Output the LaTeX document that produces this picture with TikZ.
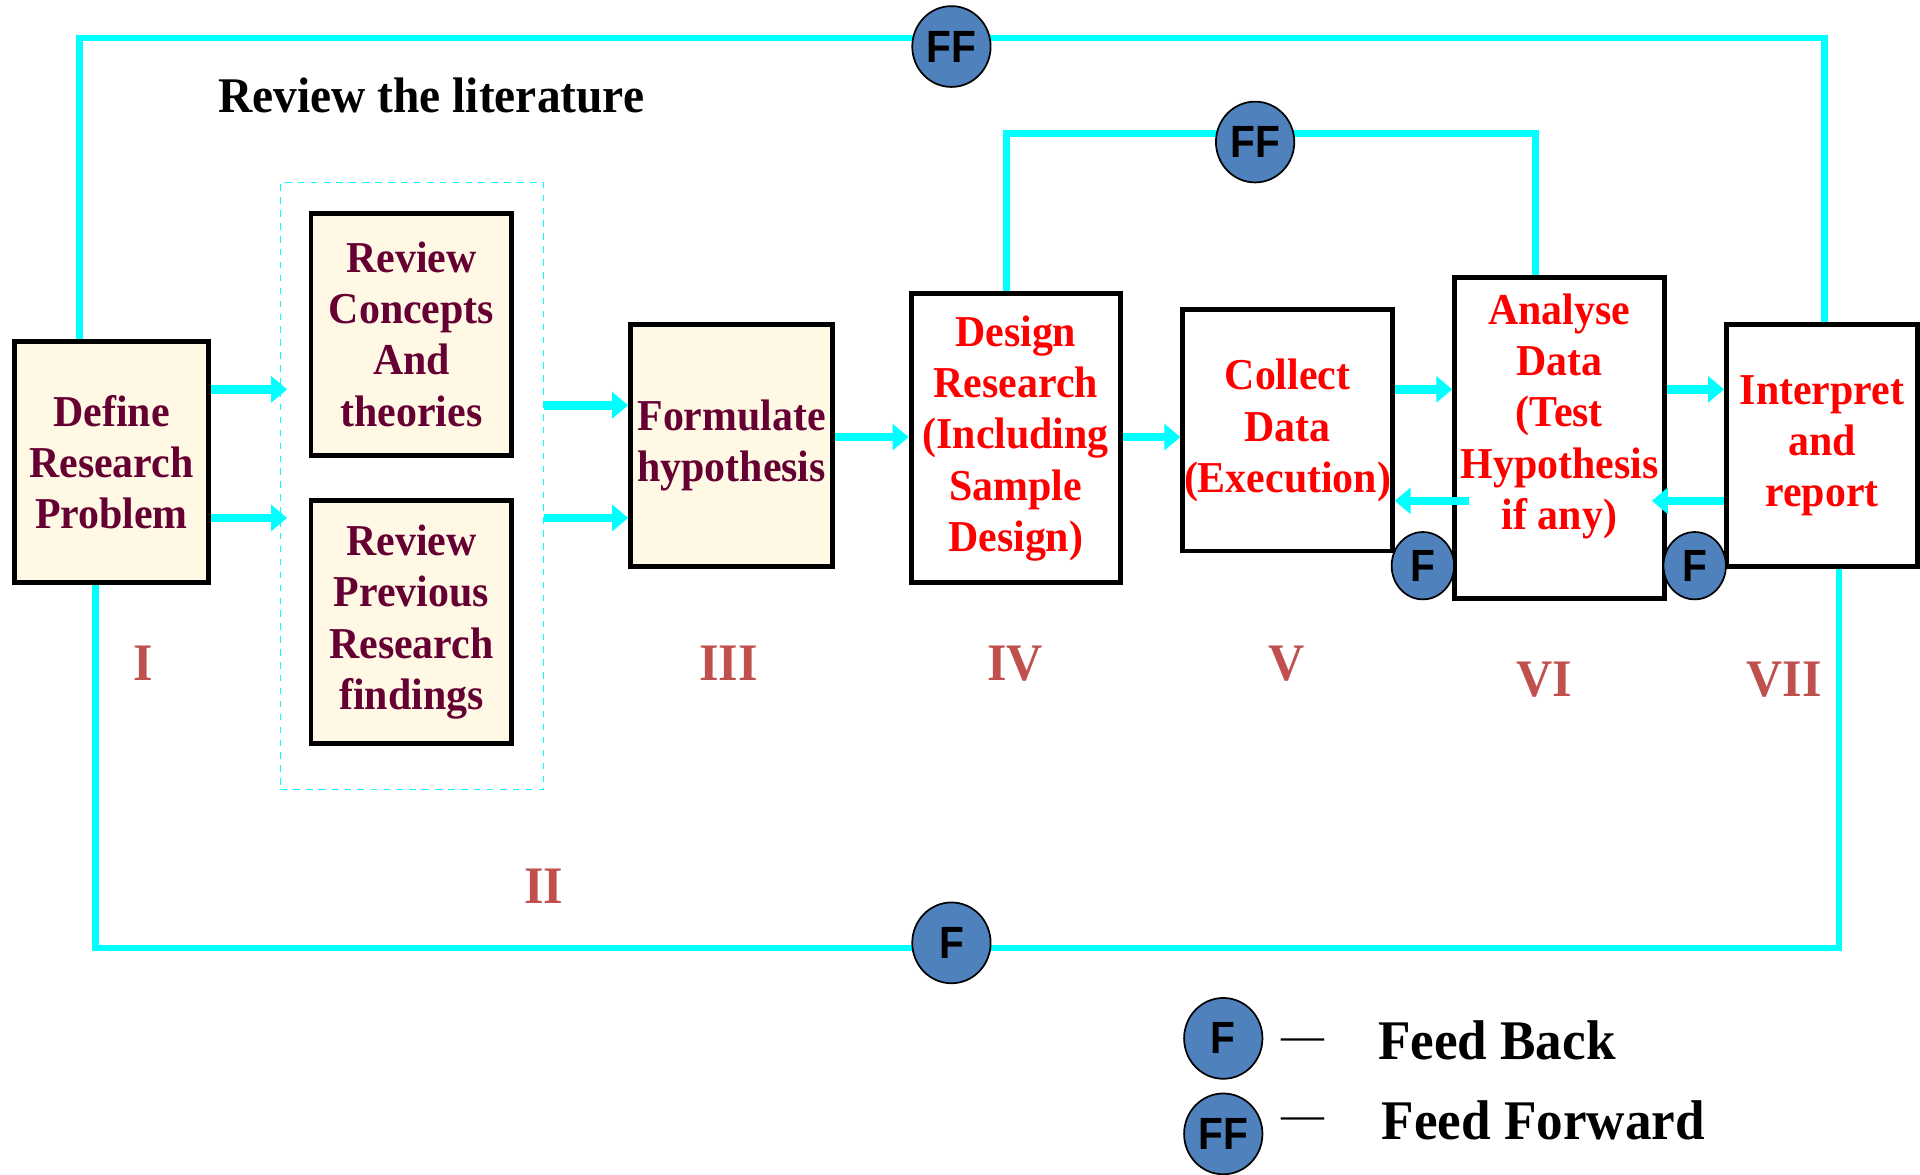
\documentclass[tikz,border=0pt]{standalone}
\usepackage{fontspec}
\setmainfont{Liberation Serif}[FakeStretch=0.95]
\newfontfamily\ballfamily{Liberation Sans}[FakeStretch=0.9]
\usetikzlibrary{arrows.meta,shapes.geometric}

\definecolor{linecyan}{RGB}{0,255,255}
\definecolor{boxcream}{RGB}{254,248,229}
\definecolor{stagemaroon}{RGB}{102,0,51}
\definecolor{numred}{RGB}{192,80,77}
\definecolor{ballblue}{RGB}{79,129,189}

\newcommand\unitpx{0.02cm}
\newcommand\stagefont{\fontsize{20.5}{23.8}\selectfont\bfseries}
\newcommand\numfont{\fontsize{24.5}{24.5}\selectfont\bfseries}
\newcommand\keyfont{\fontsize{26}{26}\selectfont\bfseries}

\tikzset{
  stage/.style={draw=black, line width=2.3pt, inner sep=0pt, align=center, font=\stagefont},
  creambox/.style={stage, fill=boxcream, text=stagemaroon},
  whitebox/.style={stage, fill=white, text=red},
  flow/.style={draw=linecyan, line width=4pt, -{Triangle[width=0.42cm,length=0.26cm]}},
  fbline/.style={draw=linecyan, line width=3pt},
  litframe/.style={draw=linecyan, dashed, line width=0.6pt},
  ball/.style={ellipse, draw=black, line width=0.8pt, fill=ballblue, inner sep=0pt,
    minimum width=64*\unitpx, minimum height=66*\unitpx,
    font=\ballfamily\bfseries\fontsize{21}{21}\selectfont},
  smallball/.style={ball, minimum width=51*\unitpx, minimum height=55*\unitpx},
  numeral/.style={text=numred, inner sep=0pt, font=\numfont}
}

\begin{document}
\begin{tikzpicture}[x=0.02cm,y=-0.02cm]
\useasboundingbox (0,0) rectangle (1568,959);

% loop corners
\coordinate (topL) at (65,31);
\coordinate (topR) at (1490,31);
\coordinate (midL) at (822,109);
\coordinate (midR) at (1254,109);
\coordinate (botL) at (78,774);
\coordinate (botR) at (1502,774);

\node[anchor=west, inner sep=0pt, font=\fontsize{23.2}{23.2}\selectfont\bfseries] (title) at (178,78) {Review the literature};

\node[litframe, minimum width=215*\unitpx, minimum height=496*\unitpx] (review) at (336.5,397) {};

% stages
\node[creambox, minimum width=158*\unitpx, minimum height=197*\unitpx] (define) at (91,377.5) {Define\\Research\\Problem};
\node[creambox, minimum width=164*\unitpx, minimum height=198*\unitpx] (concepts) at (336,273) {Review\\Concepts\\And\\theories};
\node[creambox, minimum width=164*\unitpx, minimum height=198*\unitpx] (previous) at (336,508) {Review\\Previous\\Research\\findings};
\node[creambox, minimum width=165*\unitpx, minimum height=198*\unitpx] (formulate) at (597.5,364) {Formulate\\hypothesis};
\node[whitebox, minimum width=171*\unitpx, minimum height=236*\unitpx] (design) at (829.5,358) {Design\\Research\\(Including\\Sample\\Design)};
\node[whitebox, minimum width=171*\unitpx, minimum height=197*\unitpx] (collect) at (1051.5,351.5) {Collect\\Data\\(Execution)};
\node[whitebox, minimum width=171*\unitpx, minimum height=262*\unitpx] (analyse) at (1273.5,358) {};
\node[text=red, align=center, inner sep=0pt, font=\stagefont] (analysetext) at (1273.5,340) {Analyse\\Data\\(Test\\Hypothesis\\if any)};
\node[whitebox, minimum width=156*\unitpx, minimum height=198*\unitpx] (interpret) at (1488,364) {Interpret\\and\\report};

% feed forward / feed back lines
\draw[fbline] (define.north -| topL) -- (topL) -- (topR) -- (interpret.north -| topR);
\draw[fbline] (design.north -| midL) -- (midL) -- (midR) -- (analyse.north -| midR);
\draw[fbline] (define.south -| botL) -- (botL) -- (botR) -- (interpret.south -| botR);

% arrows
\draw[flow, shorten >=-0.12cm] (define.east |- 0,318) -- (review.west |- 0,318);
\draw[flow, shorten >=-0.12cm] (define.east |- 0,423) -- (review.west |- 0,423);
\foreach \from/\to/\y in {review/formulate/331, review/formulate/423, formulate/design/357,
  design/collect/357, collect/analyse/318, analyse/interpret/318} {
\draw[flow] (\from.east |- 0,\y) -- (\to.west |- 0,\y);
}
\draw[flow, shorten <=-0.28cm] (analyse.west |- 0,409) -- (collect.east |- 0,409);
\draw[flow, shorten >=-0.24cm] (interpret.west |- 0,409) -- (analyse.east |- 0,409);

\node[ball] (fftop) at (777,38) {FF};
\node[ball] (ffmid) at (1025,116) {FF};
\node[ball] (fbot) at (777,770) {F};
\node[smallball] (fcollect) at (1162,462) {F};
\node[smallball] (fanalyse) at (1384,462) {F};

\foreach \x/\y/\t in {117/542/I, 444/724/II, 595/542/III, 829/542/IV, 1051/542/V, 1261/555/VI, 1457/555/VII} {
\node[numeral] (num\t) at (\x,\y) {\t};
}

% key
\node[ball] (keyf) at (999,848) {F};
\node[ball] (keyff) at (999,926) {FF};
\node[inner sep=0pt, font=\fontsize{21}{21}\selectfont] (dashf) at (1064,853) {---};
\node[inner sep=0pt, font=\fontsize{21}{21}\selectfont] (dashff) at (1064,918) {---};
\node[anchor=west, inner sep=0pt, font=\keyfont] (feedback) at (1125,850) {Feed Back};
\node[anchor=west, inner sep=0pt, font=\keyfont] (feedforward) at (1128,915) {Feed Forward};
\end{tikzpicture}
\end{document}
